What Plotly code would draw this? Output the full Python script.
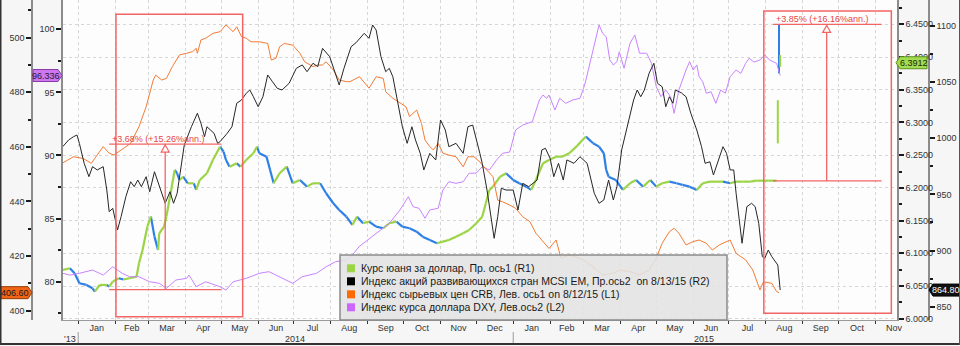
import plotly.graph_objects as go

# ---------------- data ----------------
cny_dates = [
    "2013-12-19", "2013-12-25", "2013-12-29", "2014-01-02", "2014-01-08", "2014-01-13", "2014-01-15", "2014-01-19", "2014-01-25", "2014-01-27",
    "2014-01-30", "2014-02-04", "2014-02-08", "2014-02-13", "2014-02-19", "2014-02-21", "2014-02-24", "2014-02-28", "2014-03-03", "2014-03-06",
    "2014-03-09", "2014-03-10", "2014-03-14", "2014-03-16", "2014-03-20", "2014-03-23", "2014-03-25", "2014-03-27", "2014-03-30", "2014-04-03",
    "2014-04-08", "2014-04-10", "2014-04-13", "2014-04-19", "2014-04-24", "2014-04-30", "2014-05-03", "2014-05-05", "2014-05-08", "2014-05-14",
    "2014-05-17", "2014-05-22", "2014-05-28", "2014-05-31", "2014-06-02", "2014-06-08", "2014-06-11", "2014-06-14", "2014-06-19", "2014-06-25",
    "2014-06-30", "2014-07-06", "2014-07-12", "2014-07-17", "2014-07-23", "2014-07-28", "2014-08-03", "2014-08-08", "2014-08-14", "2014-08-19",
    "2014-08-23", "2014-08-28", "2014-09-02", "2014-09-08", "2014-09-14", "2014-09-19", "2014-09-25", "2014-09-30", "2014-10-06", "2014-10-12",
    "2014-10-17", "2014-10-23", "2014-10-29", "2014-11-03", "2014-11-08", "2014-11-14", "2014-11-20", "2014-11-25", "2014-12-01", "2014-12-06",
    "2014-12-09", "2014-12-12", "2014-12-15", "2014-12-21", "2014-12-26", "2015-01-01", "2015-01-06", "2015-01-12", "2015-01-16", "2015-01-20",
    "2015-01-26", "2015-01-31", "2015-02-06", "2015-02-11", "2015-02-17", "2015-02-23", "2015-02-28", "2015-03-03", "2015-03-09", "2015-03-14",
    "2015-03-18", "2015-03-20", "2015-03-22", "2015-03-28", "2015-04-03", "2015-04-09", "2015-04-14", "2015-04-20", "2015-04-26", "2015-05-01",
    "2015-05-06", "2015-05-12", "2015-05-18", "2015-05-23", "2015-05-29", "2015-06-04", "2015-06-09", "2015-06-15", "2015-06-20", "2015-06-26",
    "2015-07-02", "2015-07-07", "2015-07-13", "2015-07-19", "2015-07-24", "2015-08-03", "2015-08-10",
]
cny_close = [
    6.0746, 6.0772, 6.0695, 6.0542, 6.0517, 6.0466, 6.0414, 6.0517, 6.0517, 6.0490,
    6.0567, 6.0619, 6.0600, 6.0619, 6.0643, 6.0848, 6.1051, 6.1407, 6.1560, 6.1255,
    6.1051, 6.1306, 6.1407, 6.1560, 6.1968, 6.2274, 6.2223, 6.2121, 6.2171, 6.2070,
    6.2070, 6.1968, 6.2121, 6.2223, 6.2426, 6.2630, 6.2553, 6.2426, 6.2324, 6.2376,
    6.2324, 6.2426, 6.2529, 6.2630, 6.2529, 6.2477, 6.2274, 6.2070, 6.2223, 6.2324,
    6.2070, 6.2121, 6.2019, 6.2070, 6.2070, 6.1918, 6.1765, 6.1662, 6.1560, 6.1433,
    6.1560, 6.1459, 6.1484, 6.1407, 6.1383, 6.1459, 6.1484, 6.1407, 6.1383, 6.1331,
    6.1255, 6.1204, 6.1154, 6.1178, 6.1204, 6.1255, 6.1306, 6.1357, 6.1459, 6.1560,
    6.1765, 6.1968, 6.2019, 6.2171, 6.2223, 6.2121, 6.2070, 6.2019, 6.1968, 6.2121,
    6.2376, 6.2426, 6.2477, 6.2477, 6.2529, 6.2630, 6.2732, 6.2783, 6.2682, 6.2630,
    6.2529, 6.2274, 6.2171, 6.2121, 6.1968, 6.2070, 6.2121, 6.2019, 6.2121, 6.2019,
    6.2070, 6.2095, 6.2070, 6.2045, 6.2019, 6.1968, 6.2070, 6.2095, 6.2095, 6.2095,
    6.2070, 6.2095, 6.2095, 6.2095, 6.2110, 6.2110, 6.2110,
]
# devaluation days: daily high/low bars
dev_dates = ["2015-08-11", "2015-08-12", "2015-08-13"]
dev_low = [6.268, 6.375, 6.385]
dev_high = [6.334, 6.449, 6.403]
dev_up = [True, False, True]

msci_dates = [
    "2013-12-19", "2013-12-24", "2013-12-28", "2013-12-31", "2014-01-02", "2014-01-06", "2014-01-10", "2014-01-13", "2014-01-17", "2014-01-22",
    "2014-01-25", "2014-01-27", "2014-01-30", "2014-02-03", "2014-02-06", "2014-02-10", "2014-02-14", "2014-02-17", "2014-02-20", "2014-02-23",
    "2014-02-27", "2014-03-02", "2014-03-06", "2014-03-11", "2014-03-15", "2014-03-19", "2014-03-22", "2014-03-25", "2014-03-28", "2014-03-31",
    "2014-04-06", "2014-04-11", "2014-04-14", "2014-04-17", "2014-04-19", "2014-04-25", "2014-04-28", "2014-04-30", "2014-05-06", "2014-05-10",
    "2014-05-14", "2014-05-18", "2014-05-22", "2014-05-25", "2014-05-28", "2014-06-01", "2014-06-05", "2014-06-09", "2014-06-13", "2014-06-17",
    "2014-06-21", "2014-06-27", "2014-07-03", "2014-07-08", "2014-07-12", "2014-07-17", "2014-07-21", "2014-07-25", "2014-07-31", "2014-08-04",
    "2014-08-08", "2014-08-12", "2014-08-18", "2014-08-22", "2014-08-29", "2014-09-02", "2014-09-05", "2014-09-08", "2014-09-12", "2014-09-16",
    "2014-09-19", "2014-09-22", "2014-09-26", "2014-09-30", "2014-10-04", "2014-10-08", "2014-10-11", "2014-10-15", "2014-10-18", "2014-10-23",
    "2014-10-28", "2014-11-01", "2014-11-05", "2014-11-08", "2014-11-14", "2014-11-20", "2014-11-24", "2014-11-28", "2014-12-04", "2014-12-06",
    "2014-12-10", "2014-12-13", "2014-12-16", "2014-12-19", "2014-12-22", "2014-12-26", "2015-01-01", "2015-01-05", "2015-01-09", "2015-01-14",
    "2015-01-18", "2015-01-21", "2015-01-25", "2015-01-28", "2015-02-01", "2015-02-04", "2015-02-08", "2015-02-12", "2015-02-15", "2015-02-21",
    "2015-02-26", "2015-03-04", "2015-03-10", "2015-03-14", "2015-03-18", "2015-03-22", "2015-03-26", "2015-03-29", "2015-04-02", "2015-04-08",
    "2015-04-12", "2015-04-15", "2015-04-18", "2015-04-21", "2015-04-25", "2015-04-29", "2015-05-02", "2015-05-06", "2015-05-09", "2015-05-12",
    "2015-05-15", "2015-05-17", "2015-05-22", "2015-05-26", "2015-05-30", "2015-06-04", "2015-06-08", "2015-06-11", "2015-06-15", "2015-06-18",
    "2015-06-22", "2015-06-26", "2015-06-29", "2015-07-02", "2015-07-05", "2015-07-07", "2015-07-12", "2015-07-16", "2015-07-20", "2015-07-23",
    "2015-07-26", "2015-07-29", "2015-07-31", "2015-08-03", "2015-08-06", "2015-08-08", "2015-08-11", "2015-08-13",
]
msci_values = [
    992.5, 998.5, 1001.4, 1002.9, 995.5, 977.7, 965.8, 974.7, 971.8, 974.7,
    953.9, 934.6, 937.6, 918.3, 930.2, 948.0, 961.3, 956.9, 962.8, 956.9,
    965.8, 952.4, 970.2, 953.9, 942.1, 952.4, 942.1, 951.0, 974.7, 994.0,
    1010.3, 1022.3, 1013.3, 1001.4, 1010.3, 1004.4, 995.5, 997.0, 1004.4, 1010.3,
    1031.2, 1034.1, 1040.1, 1043.0, 1037.0, 1028.1, 1037.0, 1056.4, 1050.4, 1044.5,
    1043.0, 1049.0, 1062.3, 1065.3, 1059.3, 1066.8, 1063.8, 1080.1, 1072.7, 1059.3,
    1047.5, 1062.3, 1081.6, 1085.0, 1093.5, 1089.0, 1100.9, 1096.4, 1072.7, 1059.3,
    1062.3, 1054.8, 1031.2, 1010.3, 995.5, 1010.3, 998.5, 986.6, 971.8, 986.6,
    980.7, 1016.3, 1007.4, 992.5, 995.5, 986.6, 1010.3, 1011.8, 986.6, 977.7,
    953.9, 930.2, 910.9, 930.2, 955.5, 953.9, 953.9, 936.1, 959.9, 956.9,
    959.9, 962.8, 989.6, 991.1, 982.0, 965.8, 977.7, 962.8, 980.7, 977.7,
    983.6, 977.7, 951.0, 942.1, 945.0, 962.8, 945.0, 956.9, 989.6, 1016.3,
    1034.1, 1043.0, 1037.0, 1043.0, 1057.9, 1066.8, 1049.0, 1045.9, 1028.1, 1037.0,
    1031.2, 1043.0, 1040.5, 1037.0, 1022.3, 1007.4, 992.5, 977.7, 979.1, 967.3,
    979.1, 992.5, 986.6, 971.8, 971.8, 951.0, 906.5, 939.1, 942.1, 939.1,
    924.3, 894.5, 893.1, 900.5, 894.5, 891.6, 887.1, 864.8,
]

crb_dates = [
    "2013-12-19", "2013-12-28", "2014-01-05", "2014-01-12", "2014-01-22", "2014-01-27", "2014-01-31", "2014-02-10", "2014-02-14", "2014-02-21",
    "2014-02-27", "2014-03-05", "2014-03-07", "2014-03-12", "2014-03-16", "2014-03-21", "2014-03-27", "2014-04-02", "2014-04-07", "2014-04-10",
    "2014-04-11", "2014-04-14", "2014-04-18", "2014-04-24", "2014-04-30", "2014-05-05", "2014-05-08", "2014-05-11", "2014-05-14", "2014-05-18",
    "2014-05-22", "2014-05-26", "2014-06-02", "2014-06-09", "2014-06-12", "2014-06-16", "2014-06-19", "2014-06-23", "2014-06-30", "2014-07-06",
    "2014-07-10", "2014-07-17", "2014-07-21", "2014-07-25", "2014-07-28", "2014-08-03", "2014-08-08", "2014-08-14", "2014-08-17", "2014-08-25",
    "2014-09-02", "2014-09-08", "2014-09-14", "2014-09-16", "2014-09-22", "2014-09-28", "2014-10-03", "2014-10-06", "2014-10-12", "2014-10-16",
    "2014-10-19", "2014-10-23", "2014-10-26", "2014-10-30", "2014-11-03", "2014-11-08", "2014-11-14", "2014-11-20", "2014-11-24", "2014-11-29",
    "2014-12-04", "2014-12-09", "2014-12-15", "2014-12-19", "2014-12-23", "2014-12-29", "2015-01-03", "2015-01-09", "2015-01-15", "2015-01-20",
    "2015-01-26", "2015-01-31", "2015-02-06", "2015-02-10", "2015-02-17", "2015-03-01", "2015-03-12", "2015-03-17", "2015-03-26", "2015-03-31",
    "2015-04-09", "2015-04-17", "2015-04-25", "2015-05-01", "2015-05-06", "2015-05-12", "2015-05-16", "2015-05-20", "2015-05-26", "2015-06-01",
    "2015-06-06", "2015-06-12", "2015-06-17", "2015-06-23", "2015-07-02", "2015-07-07", "2015-07-15", "2015-07-21", "2015-07-27", "2015-07-30",
    "2015-08-06", "2015-08-10", "2015-08-12",
]
crb_values = [
    454.1, 456.4, 455.8, 454.0, 460.1, 457.7, 457.0, 460.1, 461.3, 467.4,
    474.7, 484.5, 486.3, 484.5, 485.1, 489.4, 493.7, 494.3, 494.9, 496.1,
    494.3, 499.2, 499.8, 501.6, 502.2, 504.7, 503.4, 502.2, 504.0, 500.4,
    499.8, 498.5, 498.5, 497.9, 491.8, 492.5, 496.7, 497.9, 497.3, 494.3,
    491.2, 489.4, 490.0, 490.0, 491.2, 488.2, 484.5, 483.9, 483.9, 485.7,
    481.5, 485.7, 485.1, 480.2, 477.8, 476.0, 474.7, 471.1, 473.5, 468.6,
    462.5, 460.1, 458.9, 461.3, 457.7, 457.0, 456.4, 452.7, 456.4, 456.4,
    454.5, 451.9, 449.1, 440.5, 439.9, 438.7, 437.5, 434.4, 432.6, 428.4,
    425.3, 422.8, 425.9, 419.3, 420.4, 418.6, 414.9, 413.1, 413.7, 414.9,
    414.3, 413.1, 414.9, 419.3, 424.7, 428.9, 430.2, 428.4, 424.1, 425.3,
    425.9, 424.7, 422.2, 424.1, 425.9, 421.0, 418.6, 414.9, 407.6, 410.6,
    410.0, 407.0, 406.6,
]

dxy_dates = [
    "2013-12-19", "2013-12-25", "2014-01-02", "2014-01-13", "2014-01-22", "2014-01-30", "2014-02-07", "2014-02-13", "2014-02-21", "2014-03-02",
    "2014-03-10", "2014-03-16", "2014-03-24", "2014-04-02", "2014-04-04", "2014-04-10", "2014-04-18", "2014-04-30", "2014-05-05", "2014-05-11",
    "2014-05-22", "2014-06-02", "2014-06-10", "2014-06-19", "2014-06-30", "2014-07-08", "2014-07-20", "2014-07-28", "2014-08-05", "2014-08-14",
    "2014-08-19", "2014-08-25", "2014-09-08", "2014-09-19", "2014-09-28", "2014-10-05", "2014-10-09", "2014-10-14", "2014-10-19", "2014-10-23",
    "2014-10-30", "2014-11-03", "2014-11-08", "2014-11-14", "2014-11-20", "2014-11-25", "2014-12-01", "2014-12-06", "2014-12-12", "2014-12-18",
    "2014-12-23", "2014-12-29", "2015-01-03", "2015-01-09", "2015-01-17", "2015-01-23", "2015-01-26", "2015-01-29", "2015-01-31", "2015-02-05",
    "2015-02-09", "2015-02-14", "2015-02-20", "2015-02-26", "2015-03-01", "2015-03-03", "2015-03-07", "2015-03-12", "2015-03-14", "2015-03-17",
    "2015-03-20", "2015-03-23", "2015-03-26", "2015-03-29", "2015-03-31", "2015-04-04", "2015-04-09", "2015-04-13", "2015-04-17", "2015-04-23",
    "2015-04-27", "2015-05-01", "2015-05-05", "2015-05-09", "2015-05-13", "2015-05-16", "2015-05-20", "2015-05-26", "2015-05-29", "2015-06-01",
    "2015-06-04", "2015-06-06", "2015-06-09", "2015-06-12", "2015-06-16", "2015-06-20", "2015-06-24", "2015-06-28", "2015-07-02", "2015-07-07",
    "2015-07-11", "2015-07-15", "2015-07-18", "2015-07-22", "2015-07-27", "2015-07-31", "2015-08-04", "2015-08-10", "2015-08-13",
]
dxy_values = [
    80.66, 80.52, 80.66, 80.92, 80.52, 81.18, 80.66, 80.39, 80.39, 79.99,
    79.87, 79.47, 80.13, 80.26, 80.52, 79.60, 79.99, 79.60, 79.33, 79.99,
    80.26, 80.66, 80.79, 80.39, 79.87, 80.39, 80.66, 81.18, 81.58, 81.71,
    82.11, 82.80, 83.83, 84.62, 85.68, 86.73, 85.94, 85.81, 85.02, 85.68,
    85.81, 87.26, 87.92, 87.79, 87.92, 88.59, 88.60, 89.11, 88.85, 89.64,
    90.17, 90.27, 92.02, 92.41, 92.68, 94.40, 94.79, 94.53, 94.79, 93.60,
    94.53, 94.13, 94.40, 94.53, 95.32, 95.98, 97.57, 99.68, 100.34, 99.68,
    99.41, 97.57, 97.17, 97.43, 98.22, 96.91, 98.89, 99.55, 98.10, 98.10,
    97.30, 95.45, 94.66, 95.19, 94.66, 93.34, 95.19, 96.77, 97.43, 96.77,
    97.17, 96.24, 95.85, 94.93, 95.05, 94.13, 95.19, 94.93, 96.24, 96.77,
    96.51, 97.30, 97.70, 97.40, 97.57, 97.96, 97.57, 97.30, 96.34,
]

# last-value tags
cny_last = 6.3912
msci_last = 864.80
crb_last = 406.60
dxy_last = 96.336

legend_labels = [
    "Курс юаня за доллар, Пр. ось1 (R1)",
    "Индекс акций развивающихся стран MCSI EM, Пр.ось2\u00a0\u00a0on 8/13/15 (R2)",
    "Индекс сырьевых цен CRB, Лев. ось1 on 8/12/15 (L1)",
    "Индекс курса доллара DXY, Лев.ось2 (L2)",
]
year_labels = ["'13", "2014", "2015"]
year_label_dates = ["2013-12-25", "2014-07-02", "2015-06-10"]
year_breaks = ["2014-01-01", "2015-01-01"]

# measurement annotations (R1 axis): start, end, arrow date, base level, % move, annualised
measures = [
    dict(start="2014-01-27", end="2014-05-01", mid="2014-03-15", base=6.0445, pct=3.68, ann=15.26),
    dict(start="2015-08-07", end="2015-11-06", mid="2015-09-21", base=6.2106, pct=3.85, ann=16.16),
]
highlight_boxes = [("2014-02-01 16:00", "2014-05-19"), ("2015-07-30 06:00", "2015-11-14 06:00")]
highlight_box_px = [(14.3, 316.7), (11, 313.3)]

# ---------------- geometry / style ----------------
FIG_W, FIG_H = 960, 346
ML, MR, MT, MB = 32, 31, 0, 26
PW = FIG_W - ML - MR
PH = FIG_H - MT - MB


def fx(X):
    return (X - ML) / PW


def fy(Y):
    return (FIG_H - MB - Y) / PH


GREEN = "#9bd444"
BLUE = "#2f80e6"
BLACK = "#262626"
ORANGE = "#f37b35"
PURPLE = "#c983ff"
RED = "#f26565"
FONT = "Liberation Sans"
TICKFONT = dict(family=FONT, size=9, color="#333333")

fig = go.Figure()

# DXY (L2)
fig.add_trace(go.Scatter(x=dxy_dates, y=dxy_values, yaxis="y2", mode="lines",
                         line=dict(color=PURPLE, width=1.0), showlegend=False, hoverinfo="skip"))
# CRB (L1)
fig.add_trace(go.Scatter(x=crb_dates, y=crb_values, yaxis="y3", mode="lines",
                         line=dict(color=ORANGE, width=1.0), showlegend=False, hoverinfo="skip"))

# CNY (R1) as up/down coloured segments
gx, gy, bx, by = [], [], [], []
for i in range(1, len(cny_close)):
    sx = [cny_dates[i - 1], cny_dates[i], None]
    sy = [cny_close[i - 1], cny_close[i], None]
    if cny_close[i] >= cny_close[i - 1]:
        gx += sx; gy += sy
    else:
        bx += sx; by += sy
fig.add_trace(go.Scatter(x=bx, y=by, yaxis="y", mode="lines", line=dict(color=BLUE, width=2.2),
                         showlegend=False, hoverinfo="skip", connectgaps=False))
fig.add_trace(go.Scatter(x=gx, y=gy, yaxis="y", mode="lines", line=dict(color=GREEN, width=2.2),
                         showlegend=False, hoverinfo="skip", connectgaps=False))
for d, lo, hi, up in zip(dev_dates, dev_low, dev_high, dev_up):
    fig.add_trace(go.Scatter(x=[d, d], y=[lo, hi], yaxis="y", mode="lines",
                             line=dict(color=GREEN if up else BLUE, width=2),
                             showlegend=False, hoverinfo="skip"))

# MSCI EM (R2)
fig.add_trace(go.Scatter(x=msci_dates, y=msci_values, yaxis="y4", mode="lines",
                         line=dict(color=BLACK, width=1.0), showlegend=False, hoverinfo="skip"))

shapes = []
annotations = []

# highlight boxes
for (x0, x1), (ytop, ybot) in zip(highlight_boxes, highlight_box_px):
    shapes.append(dict(type="rect", xref="x", yref="paper", x0=x0, x1=x1, y0=fy(ybot), y1=fy(ytop),
                       line=dict(color=RED, width=1.5), fillcolor="rgba(0,0,0,0)"))

# measurement annotations
for m in measures:
    top = m["base"] * (1 + m["pct"] / 100.0)
    for lvl in (m["base"], top):
        shapes.append(dict(type="line", xref="x", yref="y", x0=m["start"], x1=m["end"], y0=lvl, y1=lvl,
                           line=dict(color=RED, width=1.3)))
    shapes.append(dict(type="line", xref="x", yref="y", x0=m["mid"], x1=m["mid"], y0=m["base"], y1=top,
                       line=dict(color=RED, width=1.3)))
    shapes.append(dict(type="path", xref="x", yref="y", xsizemode="pixel", ysizemode="pixel",
                       xanchor=m["mid"], yanchor=top, path="M 0,-1 L 4,-8 L -4,-8 Z",
                       line=dict(color=RED, width=1.2), fillcolor="#ffffff"))
    annotations.append(dict(xref="x", yref="y", x=m["start"], y=top, xanchor="left", yanchor="bottom",
                            text=f"+{m['pct']:.2f}% (+{m['ann']:.2f}%ann.)", showarrow=False, xshift=1, yshift=-2,
                            font=dict(family=FONT, size=9, color="#e84545")))


# last value tags
def tag_left(xl, xr, yref, val, bg, border, txt, tcol):
    p = f"M {fx(xl)},6 L {fx(xr - 4)},6 L {fx(xr)},0 L {fx(xr - 4)},-6 L {fx(xl)},-6 Z"
    shapes.append(dict(type="path", xref="paper", yref=yref, ysizemode="pixel", yanchor=val, path=p,
                       fillcolor=bg, line=dict(color=border, width=1)))
    annotations.append(dict(xref="paper", yref=yref, x=fx((xl + xr - 4) / 2), y=val, text=txt, showarrow=False,
                            xanchor="center", yanchor="middle", font=dict(family=FONT, size=9, color=tcol)))


def tag_right(xl, xr, yref, val, bg, border, txt, tcol):
    p = f"M {fx(xl)},0 L {fx(xl + 4)},6 L {fx(xr)},6 L {fx(xr)},-6 L {fx(xl + 4)},-6 Z"
    shapes.append(dict(type="path", xref="paper", yref=yref, ysizemode="pixel", yanchor=val, path=p,
                       fillcolor=bg, line=dict(color=border, width=1)))
    annotations.append(dict(xref="paper", yref=yref, x=fx((xl + 4 + xr) / 2), y=val, text=txt, showarrow=False,
                            xanchor="center", yanchor="middle", font=dict(family=FONT, size=9, color=tcol)))


tag_left(1, 32, "y3", crb_last, "#f06418", "#9a3a00", f"{crb_last:.2f}", "#1a1a1a")
tag_left(33, 62, "y2", dxy_last, "#cc77f0", "#8a3aa8", f"{dxy_last:.3f}", "#2a1a33")
tag_right(896, 927, "y", cny_last, "#a2dc50", "#5c8f1e", f"{cny_last:.4f}", "#1a2a0a")
tag_right(929, 959, "y4", msci_last, "#111111", "#000000", f"{msci_last:.2f}", "#ffffff")

# legend (drawn manually)
shapes.append(dict(type="rect", xref="paper", yref="paper", x0=fx(340), x1=fx(727), y0=fy(320), y1=fy(255),
                   fillcolor="rgba(226,226,226,0.88)", line=dict(color="#8a8a8a", width=1.5)))
leg_colors = [GREEN, "#000000", "#ff6a00", "#cc66ff"]
for i, (lab, col) in enumerate(zip(legend_labels, leg_colors)):
    yc = 268.3 + 13 * i
    shapes.append(dict(type="rect", xref="paper", yref="paper", x0=fx(347), x1=fx(355), y0=fy(yc + 4), y1=fy(yc - 4),
                       fillcolor=col, line=dict(width=0)))
    annotations.append(dict(xref="paper", yref="paper", x=fx(358.5), y=fy(yc), text=lab, showarrow=False,
                            xanchor="left", yanchor="middle", font=dict(family=FONT, size=10.5, color="#1a1a1a")))

# year row
for lab, d in zip(year_labels, year_label_dates):
    annotations.append(dict(xref="x", yref="paper", x=d, y=fy(338.5), text=lab, showarrow=False,
                            xanchor="center", yanchor="middle", font=TICKFONT))
for d in year_breaks:
    shapes.append(dict(type="line", xref="x", yref="paper", x0=d, x1=d, y0=fy(332), y1=fy(343),
                       line=dict(color="#9a9a9a", width=1)))

# outer frame
shapes.append(dict(type="line", xref="paper", yref="paper", x0=fx(0.5), x1=fx(0.5), y0=fy(0), y1=fy(345),
                   line=dict(color="#333333", width=2)))
shapes.append(dict(type="line", xref="paper", yref="paper", x0=fx(0), x1=fx(960), y0=fy(344), y1=fy(344),
                   line=dict(color="#333333", width=2)))
shapes.append(dict(type="line", xref="paper", yref="paper", x0=fx(959.5), x1=fx(959.5), y0=fy(0), y1=fy(345),
                   line=dict(color="#555555", width=1)))

axis_common = dict(ticks="outside", ticklen=5, tickwidth=2, tickcolor="#1a1a1a", tickfont=TICKFONT,
                   showline=True, linecolor="#8c8c8c", linewidth=1.5, zeroline=False, fixedrange=True)

fig.update_layout(
    width=FIG_W, height=FIG_H,
    margin=dict(l=ML, r=MR, t=MT, b=MB, pad=0),
    paper_bgcolor="#f6f6f6",
    plot_bgcolor="#fdfdfd",
    showlegend=False,
    hovermode=False,
    xaxis=dict(type="date", domain=[fx(63), fx(897)], range=["2013-12-19 06:00", "2015-11-19"],
               tick0="2014-01-01", dtick="M1", tickformat="%b", ticklabelmode="period",
               ticks="outside", ticklen=3, tickwidth=1, tickcolor="#333333", tickfont=TICKFONT,
               ticklabelstandoff=-4,
               showgrid=True, gridcolor="#d6d6d6", griddash="dot", gridwidth=1,
               showline=True, linecolor="#9a9a9a", linewidth=1, zeroline=False, anchor="y"),
    # R1: CNY (base axis carries the horizontal grid)
    yaxis=dict(axis_common, side="right", anchor="x", range=[5.9981, 6.4871], tick0=6.05, dtick=0.05,
               tickformat=".4f", showgrid=True, gridcolor="#d6d6d6", griddash="dot",
               minor=dict(ticks="outside", ticklen=3, tickcolor="#1a1a1a", dtick=0.025, showgrid=False)),
    # L2: DXY
    yaxis2=dict(axis_common, side="left", anchor="x", overlaying="y", range=[76.96, 102.32], tick0=80, dtick=5,
                showgrid=False, minor=dict(ticks="outside", ticklen=3, tickcolor="#1a1a1a", dtick=2.5, showgrid=False)),
    # L1: CRB
    yaxis3=dict(axis_common, side="left", anchor="free", position=0, overlaying="y", range=[396.59, 513.81],
                tick0=400, dtick=20, showgrid=False,
                minor=dict(ticks="outside", ticklen=3, tickcolor="#1a1a1a", dtick=10, showgrid=False)),
    # R2: MSCI EM
    yaxis4=dict(axis_common, side="right", anchor="free", position=1, overlaying="y", range=[838.15, 1123.16],
                tick0=850, dtick=50, showgrid=False,
                minor=dict(ticks="outside", ticklen=3, tickcolor="#1a1a1a", dtick=25, showgrid=False)),
    shapes=shapes,
    annotations=annotations,
)

fig.write_html("out.html")
